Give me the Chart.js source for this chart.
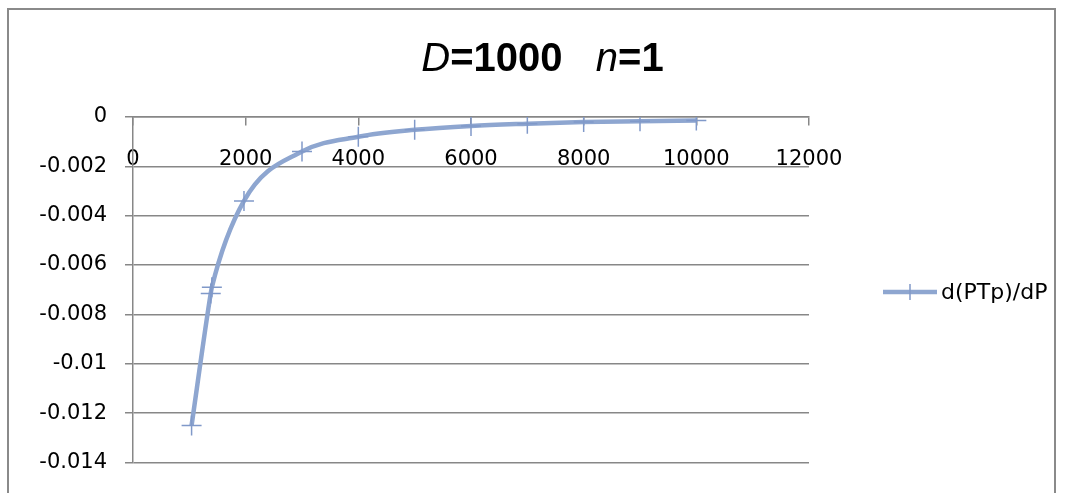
<!DOCTYPE html>
<html>
<head>
<meta charset="utf-8">
<script src="https://cdn.jsdelivr.net/npm/chart.js@4/dist/chart.umd.min.js"></script>
<style>
  html, body { margin: 0; padding: 0; background: #ffffff; }
  #wrap { width: 1070px; height: 493px; position: relative; }
</style>
</head>
<body>
<div id="wrap"><canvas id="c" width="1070" height="493"></canvas></div>
<script>
// Pressure values (x) and the derivative d(PTp)/dP (y)
const pressures  = [1040, 1380, 1400, 1970, 3000, 4000, 5000, 6000, 7000, 8000, 9000, 10000];
const derivative = [-0.0125, -0.00715, -0.0069, -0.0034, -0.0014, -0.0008, -0.00052, -0.00036, -0.00027, -0.0002, -0.00017, -0.00014];
const seriesName = 'd(PTp)/dP';

// Axis ticks and their labels
const xTicks = [0, 2000, 4000, 6000, 8000, 10000, 12000];
const xTickLabels = ['0', '2000', '4000', '6000', '8000', '10000', '12000'];
const yTicks = [-0.014, -0.012, -0.01, -0.008, -0.006, -0.004, -0.002, 0];
const yTickLabels = ['-0.014', '-0.012', '-0.01', '-0.008', '-0.006', '-0.004', '-0.002', '0'];

// Title pieces: text and style
const titleParts = [['D', 'italic'], ['=1000', 'bold'], ['   ', 'bold'], ['n', 'italic'], ['=1', 'bold']];

const LINE_COLOR = '#8ea6d0';
const MARK_COLOR = '#8099c9';
const GRID_COLOR = '#878787';
const TICK_FONT = { family: 'DejaVu Sans', size: 21 };

// Outer frame of the chart
const framePlugin = {
  id: 'frame',
  beforeDraw(chart) {
    const ctx = chart.ctx;
    ctx.save();
    ctx.fillStyle = '#ffffff';
    ctx.fillRect(0, 0, chart.width, chart.height);
    ctx.strokeStyle = '#8a8a8a';
    ctx.lineWidth = 2;
    ctx.beginPath();
    ctx.moveTo(8, chart.height + 5);
    ctx.lineTo(8, 9);
    ctx.lineTo(1055, 9);
    ctx.lineTo(1055, chart.height + 5);
    ctx.stroke();
    ctx.restore();
  }
};

// Mixed italic / bold title
const titlePlugin = {
  id: 'mixedTitle',
  afterDraw(chart) {
    const ctx = chart.ctx;
    const size = 40;
    const fontFor = s => (s === 'italic' ? 'italic ' : 'bold ') + size + 'px "Liberation Sans", Arial, sans-serif';
    ctx.save();
    ctx.fillStyle = '#000000';
    ctx.textBaseline = 'alphabetic';
    let total = 0;
    const widths = titleParts.map(([t, s]) => { ctx.font = fontFor(s); const w = ctx.measureText(t).width; total += w; return w; });
    let x = 542.5 - total / 2;
    titleParts.forEach(([t, s], i) => {
      ctx.font = fontFor(s);
      ctx.fillText(t, x, 71);
      x += widths[i];
    });
    ctx.restore();
  }
};

// Legend on the right: line sample with a cross marker and the series name
const legendPlugin = {
  id: 'sideLegend',
  afterDraw(chart) {
    const ctx = chart.ctx;
    const ds = chart.data.datasets[0];
    const y = 292;
    ctx.save();
    ctx.strokeStyle = ds.borderColor;
    ctx.lineWidth = ds.borderWidth;
    ctx.beginPath();
    ctx.moveTo(883, y);
    ctx.lineTo(937, y);
    ctx.stroke();
    ctx.strokeStyle = ds.pointBorderColor;
    ctx.lineWidth = 1.5;
    ctx.beginPath();
    ctx.moveTo(910, y - 8);
    ctx.lineTo(910, y + 8);
    ctx.stroke();
    ctx.fillStyle = '#000000';
    ctx.font = '22px "DejaVu Sans", sans-serif';
    ctx.textBaseline = 'middle';
    ctx.textAlign = 'left';
    ctx.fillText(ds.label, 941, y + 1);
    ctx.restore();
  }
};

new Chart(document.getElementById('c'), {
  type: 'scatter',
  data: {
    datasets: [{
      label: seriesName,
      data: pressures.map((p, i) => ({ x: p, y: derivative[i] })),
      showLine: true,
      borderColor: LINE_COLOR,
      borderWidth: 4.5,
      tension: 0.4,
      cubicInterpolationMode: 'monotone',
      pointStyle: 'cross',
      pointRadius: 10,
      pointHoverRadius: 10,
      pointBorderWidth: 1.5,
      pointBorderColor: MARK_COLOR,
      pointBackgroundColor: MARK_COLOR
    }]
  },
  options: {
    responsive: false,
    animation: false,
    devicePixelRatio: 1,
    layout: { padding: { top: 117, right: 261, bottom: 26, left: 0 } },
    plugins: {
      legend: { display: false },
      title: { display: false },
      tooltip: { enabled: false }
    },
    scales: {
      x: {
        type: 'linear',
        position: { y: 0 },
        min: 0,
        max: 12000,
        afterBuildTicks: s => { s.ticks = xTicks.map(v => ({ value: v })); },
        afterFit: s => { s.height = 0; },
        ticks: {
          color: '#000000',
          font: TICK_FONT,
          padding: 22,
          maxRotation: 0,
          autoSkip: false,
          callback: v => xTickLabels[xTicks.indexOf(v)]
        },
        grid: {
          drawOnChartArea: false,
          drawTicks: true,
          tickLength: 8,
          color: GRID_COLOR,
          lineWidth: 1.5
        },
        border: { display: true, color: GRID_COLOR, width: 1.5 }
      },
      y: {
        type: 'linear',
        position: 'left',
        min: -0.014,
        max: 0,
        afterBuildTicks: s => { s.ticks = yTicks.map(v => ({ value: v })); },
        afterFit: s => { s.width = 133; },
        ticks: {
          color: '#000000',
          font: TICK_FONT,
          padding: 18,
          autoSkip: false,
          callback: v => yTickLabels[yTicks.indexOf(v)]
        },
        grid: {
          drawOnChartArea: true,
          drawTicks: true,
          tickLength: 8,
          color: GRID_COLOR,
          lineWidth: 1.5
        },
        border: { display: true, color: GRID_COLOR, width: 1.5 }
      }
    }
  },
  plugins: [framePlugin, titlePlugin, legendPlugin]
});
</script>
</body>
</html>
